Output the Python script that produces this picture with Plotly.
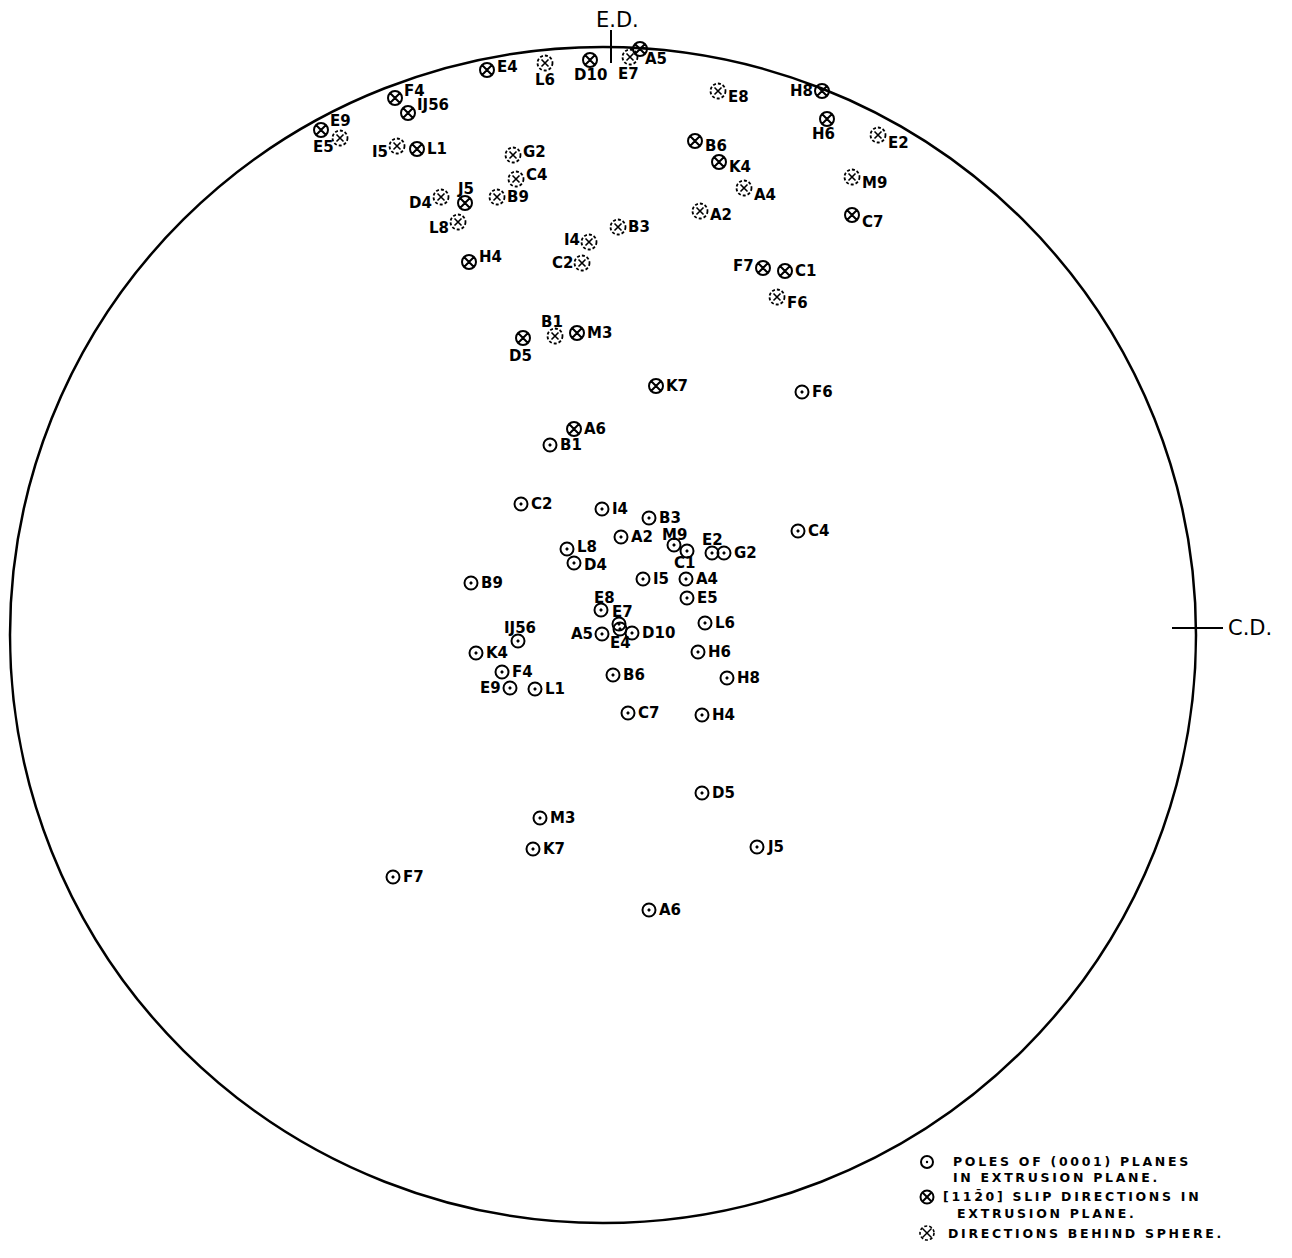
import plotly.graph_objects as go

# Stereographic projection, origin at the centre of the net,
# +y toward the extrusion direction (E.D.), +x toward C.D.  (net radius ~ 590 units)

# (0001) poles in extrusion plane
pole_labels = ["B1", "F6", "C2", "I4", "B3", "A2", "M9", "C1", "E2", "G2", "C4", "L8", "D4",
               "B9", "I5", "A4", "E5", "E8", "E7", "E4", "A5", "D10", "L6", "H6", "H8", "B6",
               "C7", "H4", "IJ56", "K4", "F4", "E9", "L1", "D5", "M3", "K7", "J5", "F7", "A6"]
pole_x = [-53, 199, -82, -1, 46, 18, 71, 84, 109, 121, 195, -36, -29,
          -132, 40, 83, 84, -2, 16, 17, -1, 29, 102, 95, 124, 10,
          25, 99, -85, -127, -101, -93, -68, 99, -63, -70, 154, -210, 46]
pole_y = [190, 243, 131, 126, 117, 98, 90, 84, 82, 82, 104, 86, 72,
          52, 56, 56, 37, 25, 11, 6, 1, 2, 12, -17, -43, -40,
          -78, -80, -6, -18, -37, -53, -54, -158, -183, -214, -212, -242, -275]

# [11-20] slip directions in extrusion plane (front hemisphere)
slip_labels = ["E9", "F4", "IJ56", "L1", "E4", "D10", "A5", "H8", "H6", "B6", "K4", "C7",
               "J5", "H4", "F7", "C1", "D5", "M3", "K7", "A6"]
slip_x = [-282, -208, -195, -186, -116, -13, 37, 219, 224, 92, 116, 249,
          -138, -134, 160, 182, -80, -26, 53, -29]
slip_y = [505, 537, 522, 486, 565, 575, 586, 544, 516, 494, 473, 420,
          432, 373, 367, 364, 297, 302, 249, 206]

# slip directions behind the sphere
behind_labels = ["E5", "I5", "L6", "E7", "E8", "E2", "A4", "A2", "M9", "G2", "C4", "D4",
                 "B9", "L8", "I4", "B3", "C2", "F6", "B1"]
behind_x = [-263, -206, -58, 27, 115, 275, 141, 97, 249, -90, -87, -162,
            -106, -145, -14, 15, -21, 174, -48]
behind_y = [497, 489, 572, 578, 544, 500, 447, 424, 458, 480, 456, 438,
            438, 413, 393, 408, 372, 338, 299]

# ---- label placement (style): (anchor, x shift px, y shift px) ----
DEFAULT = ("left", 9, 0)
pole_place = {"M9": ("center", 0, 10), "C1": ("center", -3, -12), "E2": ("center", 0, 13),
              "E8": ("center", 3, 12), "E7": ("center", 3, 12), "E4": ("center", 0, -14),
              "A5": ("right", -8, 0), "IJ56": ("center", 2, 13), "E9": ("right", -8, 0),
              "L8": ("left", 9, 2), "D4": ("left", 9, -2)}
slip_place = {"E9": ("left", 8, 9), "F4": ("left", 8, 7), "IJ56": ("left", 8, 8),
              "E4": ("left", 9, 3), "D10": ("center", 0, -15), "A5": ("left", 4, -10),
              "H8": ("right", -8, 0), "H6": ("center", -4, -15), "B6": ("left", 9, -5),
              "K4": ("left", 9, -5), "C7": ("left", 9, -7), "J5": ("center", 0, 14),
              "H4": ("left", 9, 5), "F7": ("right", -8, 2), "D5": ("center", -3, -18)}
behind_place = {"E5": ("right", -5, -9), "I5": ("right", -8, -6), "L6": ("center", 0, -17),
                "E7": ("center", -2, -17), "E8": ("left", 9, -6), "E2": ("left", 9, -8),
                "A4": ("left", 9, -7), "A2": ("left", 9, -4), "M9": ("left", 9, -6),
                "G2": ("left", 9, 3), "C4": ("left", 9, 4), "D4": ("right", -8, -6),
                "L8": ("right", -8, -6), "I4": ("right", -8, 2), "C2": ("right", -8, 0),
                "F6": ("left", 9, -6), "B1": ("center", -3, 14)}

FONT = "DejaVu Sans"
W, H = 1292, 1258
CX, CY = 603, 635          # page position of the net centre
RX, RY = 593, 588          # net outline

fig = go.Figure()

fig.add_trace(go.Scatter(
    x=pole_x, y=pole_y, mode="markers", text=pole_labels, hoverinfo="text",
    marker=dict(symbol="circle-open-dot", size=13, color="black", line=dict(width=2, color="black")),
    cliponaxis=False, showlegend=False))

fig.add_trace(go.Scatter(
    x=slip_x, y=slip_y, mode="markers", text=slip_labels, hoverinfo="text",
    marker=dict(symbol="circle-x-open", size=14, color="black", line=dict(width=2, color="black")),
    cliponaxis=False, showlegend=False))

fig.add_trace(go.Scatter(
    x=behind_x, y=behind_y, mode="markers", text=behind_labels, hoverinfo="text",
    marker=dict(symbol="x-thin-open", size=7, color="black", line=dict(width=1.6, color="black")),
    cliponaxis=False, showlegend=False))

shapes = []
annotations = []
lab_font = dict(family=FONT, size=15, color="black", weight="bold")

def add_labels(labels, xs, ys, place):
    for l, x, y in zip(labels, xs, ys):
        anc, dx, dy = place.get(l, DEFAULT)
        annotations.append(dict(x=x, y=y, xref="x", yref="y", text=l, showarrow=False,
                                xanchor=anc, yanchor="middle", xshift=dx, yshift=dy,
                                borderpad=0, font=lab_font))

add_labels(pole_labels, pole_x, pole_y, pole_place)
add_labels(slip_labels, slip_x, slip_y, slip_place)
add_labels(behind_labels, behind_x, behind_y, behind_place)

R_B = 7.5
for x, y in zip(behind_x, behind_y):
    shapes.append(dict(type="circle", xref="x", yref="y", x0=x - R_B, x1=x + R_B, y0=y - R_B, y1=y + R_B,
                       line=dict(color="black", width=1.8, dash="3px,2px")))

# net outline and direction ticks
shapes.append(dict(type="circle", xref="x", yref="y", x0=-RX, x1=RX, y0=-RY, y1=RY,
                   line=dict(color="black", width=2.5)))
shapes.append(dict(type="line", xref="x", yref="y", x0=8, x1=8, y0=572, y1=605,
                   line=dict(color="black", width=2)))
shapes.append(dict(type="line", xref="x", yref="y", x0=569, x1=620, y0=7, y1=7,
                   line=dict(color="black", width=2)))

annotations += [
    dict(x=14, y=615, text="E.D.", showarrow=False, xref="x", yref="y",
         font=dict(family=FONT, size=21, color="black")),
    dict(x=623, y=7, text="C.D.", showarrow=False, xref="x", yref="y", xanchor="left",
         font=dict(family=FONT, size=21, color="black")),
]

# key (bottom right)
leg_font = dict(family=FONT, size=12.5, color="black", weight="bold")
SP = '<span style="letter-spacing:2.7px">'
key_lines = [
    (349, -534, "POLES OF (0001) PLANES<br>IN EXTRUSION PLANE."),
    (339, -570, "[11" + "2\u0304" + "0] SLIP DIRECTIONS IN<br>\u00a0\u00a0EXTRUSION PLANE."),
    (344, -598, "DIRECTIONS BEHIND SPHERE."),
]
for kx, ky, t in key_lines:
    lines = t.split("<br>")
    t2 = "<br>".join(SP + ln + "</span>" for ln in lines)
    annotations.append(dict(x=kx, y=ky, text=t2, showarrow=False, xref="x", yref="y",
                            xanchor="left", yanchor="middle", align="left", borderpad=0,
                            font=leg_font))

def key_circle(x, y, r, dash="solid", width=2):
    shapes.append(dict(type="circle", xref="x", yref="y", x0=x - r, x1=x + r, y0=y - r, y1=y + r,
                       line=dict(color="black", width=width, dash=dash)))

def key_x(x, y, d, width=2):
    shapes.append(dict(type="line", xref="x", yref="y", x0=x - d, x1=x + d, y0=y - d, y1=y + d,
                       line=dict(color="black", width=width)))
    shapes.append(dict(type="line", xref="x", yref="y", x0=x - d, x1=x + d, y0=y + d, y1=y - d,
                       line=dict(color="black", width=width)))

key_circle(324, -527, 6)
shapes.append(dict(type="circle", xref="x", yref="y", x0=322.8, x1=325.2, y0=-528.2, y1=-525.8,
                   fillcolor="black", line=dict(color="black", width=0)))
key_circle(324, -562, 6.5)
key_x(324, -562, 4.5)
key_circle(324, -598, 7, dash="3px,2px", width=1.6)
key_x(324, -598, 4.5, width=1.5)

fig.update_layout(
    width=W, height=H, autosize=False,
    margin=dict(l=0, r=0, t=0, b=0, pad=0),
    paper_bgcolor="white", plot_bgcolor="white",
    xaxis=dict(range=[-CX, W - CX], visible=False, fixedrange=True),
    yaxis=dict(range=[CY - H, CY], visible=False, fixedrange=True),
    shapes=shapes, annotations=annotations,
    showlegend=False,
)

fig.write_html("out.html", include_plotlyjs=True, config={"displayModeBar": False},
               post_script="document.body.style.margin='0';document.body.style.overflow='hidden';")
